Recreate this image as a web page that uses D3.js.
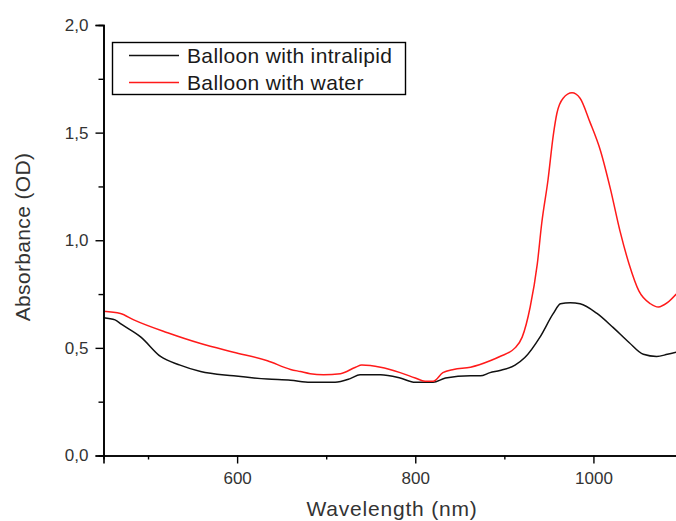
<!DOCTYPE html>
<html>
<head>
<meta charset="utf-8">
<script src="https://cdn.jsdelivr.net/npm/d3@7"></script>
<style>
  html, body { margin: 0; padding: 0; background: #fff; }
  svg { display: block; }
  text { font-family: "Liberation Sans", Arial, sans-serif; }
</style>
</head>
<body>
<svg id="chart" width="676" height="521"></svg>
<script>
// ---- data ----
const intralipidWl = [450, 463, 470, 492, 514, 536, 559, 596, 634, 660, 682, 710, 727, 738, 761, 783, 800, 820, 834, 862, 873, 884, 895, 912, 923, 940, 955, 963, 974, 985, 1004, 1022, 1040, 1056, 1071, 1083, 1093];
const intralipidAbs = [0.64, 0.63, 0.61, 0.55, 0.46, 0.42, 0.39, 0.37, 0.355, 0.35, 0.34, 0.34, 0.357, 0.375, 0.375, 0.36, 0.34, 0.34, 0.36, 0.37, 0.37, 0.385, 0.395, 0.42, 0.455, 0.55, 0.66, 0.705, 0.71, 0.705, 0.66, 0.595, 0.525, 0.47, 0.46, 0.47, 0.48];

const waterWl = [450, 469, 484, 522, 559, 596, 634, 660, 671, 682, 697, 716, 733, 740, 761, 783, 800, 811, 820, 831, 843, 862, 884, 895, 912, 920, 929, 937, 942, 949, 955, 959, 966, 976, 985, 996, 1008, 1019, 1030, 1040, 1051, 1064, 1073, 1083, 1093];
const waterAbs = [0.67, 0.66, 0.63, 0.57, 0.52, 0.48, 0.44, 0.40, 0.39, 0.38, 0.375, 0.38, 0.41, 0.42, 0.41, 0.385, 0.36, 0.345, 0.345, 0.385, 0.40, 0.41, 0.44, 0.46, 0.50, 0.55, 0.69, 0.89, 1.08, 1.28, 1.49, 1.59, 1.66, 1.685, 1.66, 1.55, 1.415, 1.24, 1.04, 0.89, 0.765, 0.705, 0.69, 0.71, 0.75];

const seriesNames = ["Balloon with intralipid", "Balloon with water"];
const seriesColors = ["#111111", "#ff1a1a"];

const xMajorTicks = [600, 800, 1000];
const xMinorTicks = [500, 700, 900, 1100];
const yMajorTicks = [0, 0.5, 1.0, 1.5, 2.0];
const yMinorTicks = [0.25, 0.75, 1.25, 1.75];

const xTitle = "Wavelength (nm)";
const yTitle = "Absorbance (OD)";

// ---- layout ----
const svg = d3.select("#chart");
const x = d3.scaleLinear().domain([450, 1100]).range([103.5, 682.5]);
const y = d3.scaleLinear().domain([0, 2.0]).range([455.5, 25]);

const fmtY = v => d3.format(".1f")(v).replace(".", ",");

const series = [
  intralipidWl.map((w, i) => ({ w, a: intralipidAbs[i] })),
  waterWl.map((w, i) => ({ w, a: waterAbs[i] }))
];

svg.append("defs").append("clipPath").attr("id", "plotclip")
  .append("rect").attr("x", x(450)).attr("y", 0).attr("width", x(1100) - x(450)).attr("height", y(0));

const line = d3.line().x(d => x(d.w)).y(d => y(d.a)).curve(d3.curveMonotoneX);

const lines = svg.append("g").attr("clip-path", "url(#plotclip)");
series.forEach((s, i) => {
  lines.append("path").datum(s)
    .attr("fill", "none")
    .attr("stroke", seriesColors[i])
    .attr("stroke-width", 1.5)
    .attr("stroke-linejoin", "round")
    .attr("d", line);
});

// ---- axes ----
function styleAxis(g) {
  g.selectAll("path.domain").attr("stroke", "#000").attr("stroke-width", 1.6);
  g.selectAll(".tick line").attr("stroke", "#000").attr("stroke-width", 1.4);
  g.selectAll(".tick text").attr("fill", "#333").style("font-size", "17px")
    .style("font-family", "'Liberation Sans', Arial, sans-serif");
}

const yAxisMinor = svg.append("g").attr("transform", `translate(${x(450)},0)`)
  .call(d3.axisLeft(y).tickValues(yMinorTicks).tickSize(5).tickFormat(""));
styleAxis(yAxisMinor);
const yAxis = svg.append("g").attr("transform", `translate(${x(450)},0)`)
  .call(d3.axisLeft(y).tickValues(yMajorTicks).tickSize(8).tickPadding(7).tickFormat(fmtY));
styleAxis(yAxis);

const xAxisMinor = svg.append("g").attr("transform", `translate(0,${y(0)})`)
  .call(d3.axisBottom(x).tickValues(xMinorTicks).tickSize(4).tickFormat(""));
styleAxis(xAxisMinor);
const xAxis = svg.append("g").attr("transform", `translate(0,${y(0)})`)
  .call(d3.axisBottom(x).tickValues(xMajorTicks).tickSize(8).tickPadding(8).tickFormat(d3.format("d")));
styleAxis(xAxis);

// ---- titles ----
svg.append("text")
  .attr("x", 392).attr("y", 516)
  .attr("text-anchor", "middle")
  .attr("fill", "#333")
  .style("font-size", "21px")
  .style("letter-spacing", "0.8px")
  .text(xTitle);

svg.append("text")
  .attr("transform", "translate(30,237) rotate(-90)")
  .attr("text-anchor", "middle")
  .attr("fill", "#333")
  .style("font-size", "21px")
  .style("letter-spacing", "0.35px")
  .text(yTitle);

// ---- legend ----
const legend = svg.append("g");
legend.append("rect")
  .attr("x", 112.5).attr("y", 42.5).attr("width", 293).attr("height", 52)
  .attr("fill", "#fff").attr("stroke", "#000").attr("stroke-width", 1.4);
const rowY = [55.5, 82.5];
seriesNames.forEach((name, i) => {
  legend.append("line")
    .attr("x1", 129).attr("x2", 179).attr("y1", rowY[i]).attr("y2", rowY[i])
    .attr("stroke", seriesColors[i]).attr("stroke-width", 1.5);
  legend.append("text")
    .attr("x", 187).attr("y", rowY[i] + 7.5)
    .attr("fill", "#1a1a1a")
    .style("font-size", "21px")
    .style("letter-spacing", "0.35px")
    .text(name);
});
</script>
</body>
</html>
